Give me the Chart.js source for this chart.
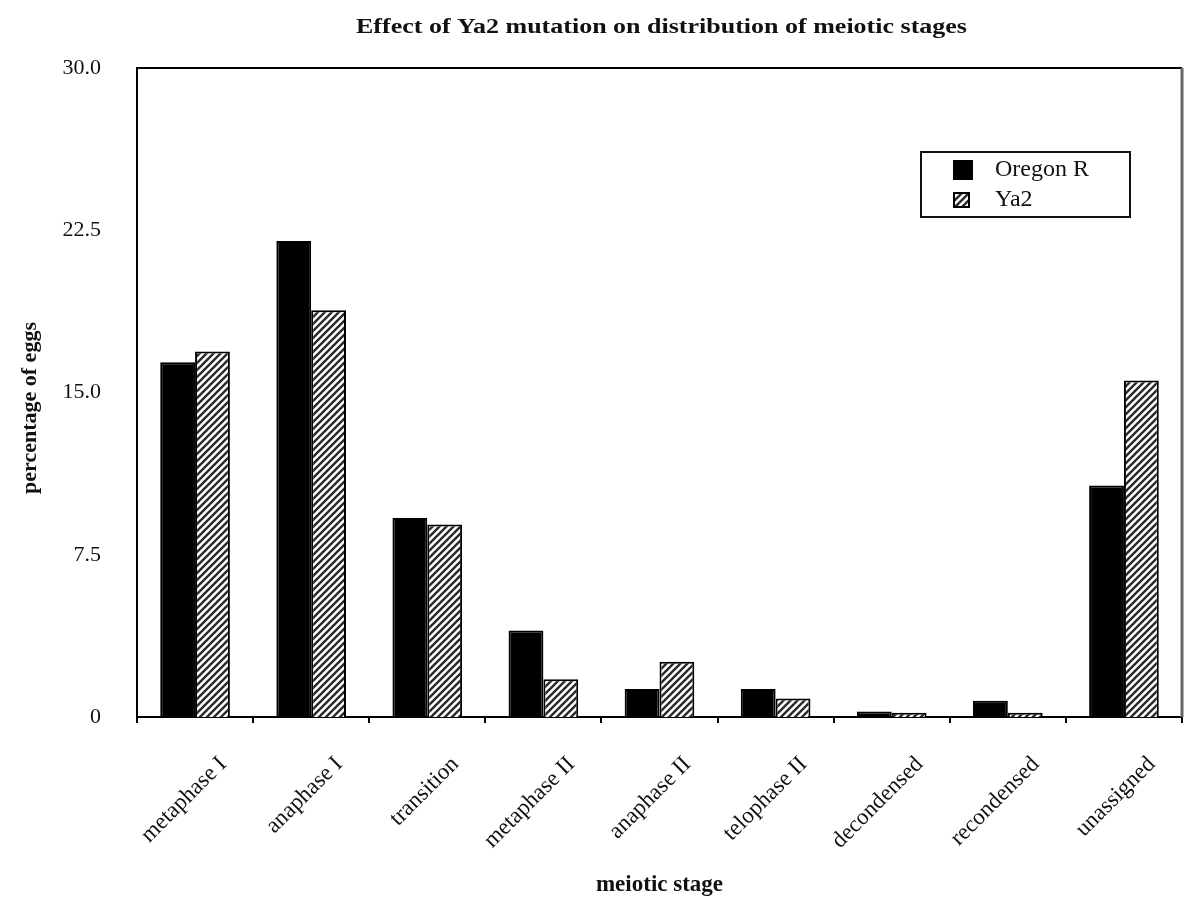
<!DOCTYPE html>
<html>
<head>
<meta charset="utf-8">
<script src="https://cdn.jsdelivr.net/npm/chart.js@4.4.0/dist/chart.umd.min.js"></script>
<style>
  html, body { margin: 0; padding: 0; background: #fff; }
  #wrap { width: 1200px; height: 919px; }
</style>
</head>
<body>
<div id="wrap"><canvas id="stagesChart" width="1200" height="919"></canvas></div>
<script>
    // Data
    const stages = ['metaphase I', 'anaphase I', 'transition', 'metaphase II', 'anaphase II',
                    'telophase II', 'decondensed', 'recondensed', 'unassigned'];
    const oregonR = [16.4, 22.0, 9.2, 4.0, 1.3, 1.3, 0.25, 0.75, 10.7];
    const ya2 = [16.9, 18.8, 8.9, 1.75, 2.55, 0.85, 0.2, 0.2, 15.55];
    const yTicks = [0, 7.5, 15, 22.5, 30];

    const serif = "'Liberation Serif', 'DejaVu Serif', serif";

    // Diagonal hatch for the Ya2 bars
    function makeHatch() {
        const s = 7;
        const c = document.createElement('canvas');
        c.width = s; c.height = s;
        const g = c.getContext('2d');
        g.fillStyle = '#fff';
        g.fillRect(0, 0, s, s);
        g.strokeStyle = '#2a2a2a';
        g.lineWidth = 2.4;
        g.beginPath();
        g.moveTo(0, s); g.lineTo(s, 0);
        g.moveTo(-s / 2, s / 2); g.lineTo(s / 2, -s / 2);
        g.moveTo(s / 2, s * 1.5); g.lineTo(s * 1.5, s / 2);
        g.stroke();
        return g.createPattern(c, 'repeat');
    }
    const hatch = makeHatch();

    // Frame, titles and legend drawn around the plot area
    const decorPlugin = {
        id: 'decor',
        afterDraw(chart) {
            const { ctx, chartArea: a } = chart;
            ctx.save();
            ctx.strokeStyle = '#000';
            ctx.lineWidth = 2;
            ctx.beginPath();
            ctx.moveTo(a.left, a.bottom);
            ctx.lineTo(a.left, a.top);
            ctx.lineTo(a.right, a.top);
            ctx.stroke();
            ctx.strokeStyle = '#666';
            ctx.lineWidth = 3;
            ctx.beginPath();
            ctx.moveTo(a.right, a.top);
            ctx.lineTo(a.right, a.bottom);
            ctx.stroke();

            // title (wide bold face, stretched horizontally)
            ctx.fillStyle = '#111';
            ctx.save();
            ctx.translate((a.left + a.right) / 2 + 2, 28);
            ctx.scale(1.3, 1);
            ctx.font = 'bold 20px ' + serif;
            ctx.textAlign = 'center';
            ctx.textBaseline = 'middle';
            ctx.fillText('Effect of Ya2 mutation on distribution of meiotic stages', 0, 0);
            ctx.restore();

            // y axis title
            ctx.save();
            ctx.translate(30, 408);
            ctx.rotate(-Math.PI / 2);
            ctx.font = 'bold 22px ' + serif;
            ctx.textAlign = 'center';
            ctx.textBaseline = 'middle';
            ctx.fillText('percentage of eggs', 0, 0);
            ctx.restore();

            // legend
            const lx = a.right - 261, ly = a.top + 84;
            ctx.fillStyle = '#fff';
            ctx.fillRect(lx, ly, 209, 65);
            ctx.strokeStyle = '#111';
            ctx.lineWidth = 2;
            ctx.strokeRect(lx, ly, 209, 65);
            ctx.fillStyle = '#000';
            ctx.fillRect(lx + 32, ly + 8, 20, 20);
            ctx.fillStyle = hatch;
            ctx.fillRect(lx + 32, ly + 40, 17, 16);
            ctx.strokeStyle = '#000';
            ctx.lineWidth = 2;
            ctx.strokeRect(lx + 33, ly + 41, 15, 14);
            ctx.fillStyle = '#111';
            ctx.font = '24px ' + serif;
            ctx.textAlign = 'left';
            ctx.textBaseline = 'middle';
            ctx.fillText('Oregon R', lx + 74, ly + 18);
            ctx.fillText('Ya2', lx + 74, ly + 48);
            ctx.restore();
        }
    };

    const ctx = document.getElementById('stagesChart').getContext('2d');
    new Chart(ctx, {
        type: 'bar',
        data: {
            labels: stages,
            datasets: [{
                label: 'Oregon R',
                data: oregonR,
                backgroundColor: '#000',
                borderColor: '#000',
                borderWidth: 2,
                categoryPercentage: 0.6,
                barPercentage: 1.0
            }, {
                label: 'Ya2',
                data: ya2,
                backgroundColor: hatch,
                borderColor: '#000',
                borderWidth: 2,
                categoryPercentage: 0.6,
                barPercentage: 1.0
            }]
        },
        options: {
            responsive: false,
            animation: false,
            layout: { padding: { top: 68, right: 18, left: 0, bottom: 0 } },
            plugins: {
                legend: { display: false },
                title: { display: false },
                tooltip: { enabled: false }
            },
            scales: {
                x: {
                    offset: true,
                    afterFit(scale) { scale.height = 202; },
                    grid: {
                        offset: true,
                        drawOnChartArea: false,
                        drawTicks: true,
                        tickLength: 6,
                        color: '#000',
                        lineWidth: 2
                    },
                    border: { display: true, color: '#000', width: 2 },
                    ticks: {
                        color: '#111',
                        font: { family: serif, size: 23 },
                        minRotation: 45,
                        maxRotation: 45,
                        padding: 28,
                        labelOffset: 28,
                        autoSkip: false
                    },
                    title: {
                        display: true,
                        text: 'meiotic stage',
                        color: '#111',
                        font: { family: serif, size: 23, weight: 'bold' },
                        padding: { top: 0, bottom: 20 }
                    }
                },
                y: {
                    min: 0,
                    max: 30,
                    afterFit(scale) { scale.width = 137; },
                    afterBuildTicks(scale) {
                        scale.ticks = yTicks.map(v => ({ value: v }));
                    },
                    grid: { display: false },
                    border: { display: true, color: '#000', width: 2 },
                    ticks: {
                        color: '#111',
                        font: { family: serif, size: 22 },
                        padding: 28,
                        callback: function(value) {
                            return value === 0 ? '0' : value.toFixed(1);
                        }
                    }
                }
            }
        },
        plugins: [decorPlugin]
    });
</script>
</body>
</html>
